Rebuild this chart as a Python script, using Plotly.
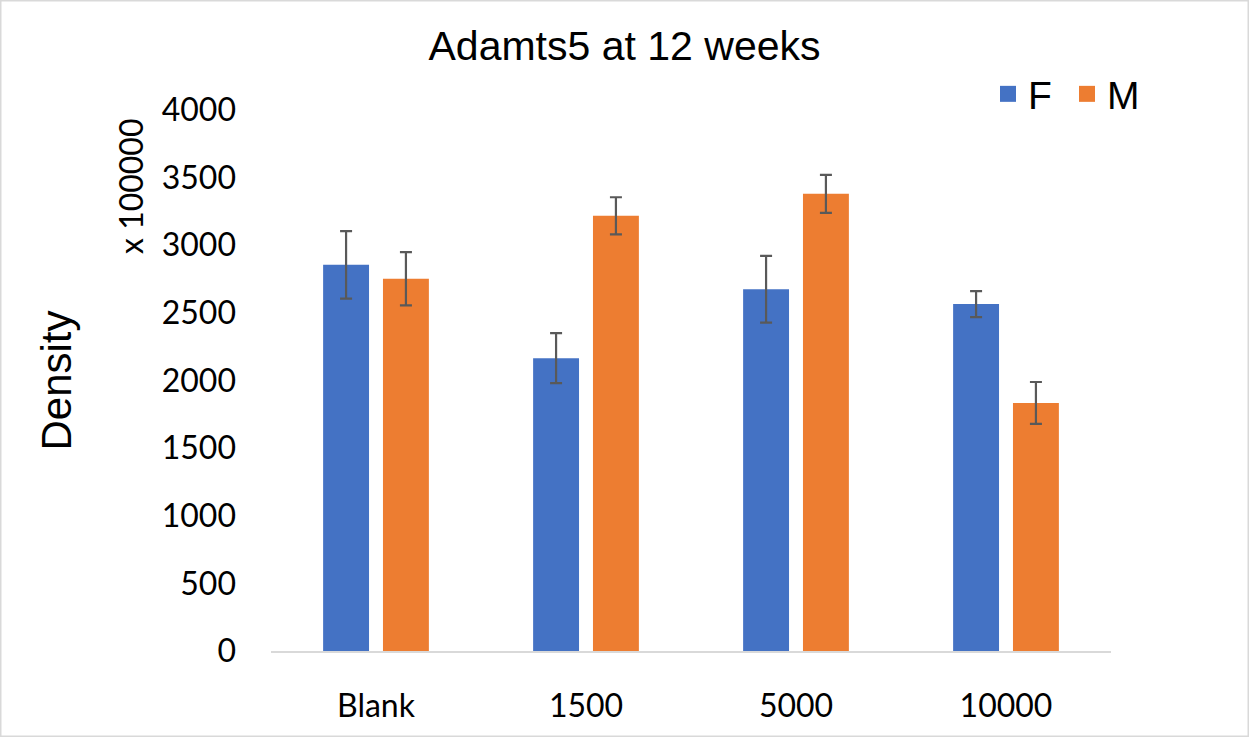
import plotly.graph_objects as go

categories = ["Blank", "1500", "5000", "10000"]
female = [2855, 2165, 2675, 2565]
female_err = [250, 185, 247, 96]
male = [2752, 3218, 3380, 1834]
male_err = [197, 137, 140, 155]

W, H = 1249, 737
L, R, T, B = 271, 138, 110, 86
pw, ph = W - L - R, H - T - B

BLUE = "#4472C4"
ORANGE = "#ED7D31"
ERR = "#595959"
TICK_FONT = dict(family="Lato", size=32, color="#000000")

fig = go.Figure()

for name, vals, errs, color in [
    ("F", female, female_err, BLUE),
    ("M", male, male_err, ORANGE),
]:
    fig.add_trace(go.Bar(
        x=categories, y=vals, name=name,
        marker=dict(color=color, line=dict(width=0)),
        error_y=dict(type="data", array=errs, visible=True,
                     color=ERR, thickness=2.2, width=6),
        showlegend=False,
    ))

# legend entries with larger square swatches
for name, color in [("F", BLUE), ("M", ORANGE)]:
    fig.add_trace(go.Scatter(
        x=[None], y=[None], name=name, mode="markers",
        marker=dict(symbol="square", size=16, color=color),
        showlegend=True,
    ))

fig.update_layout(
    width=W, height=H,
    margin=dict(l=L, r=R, t=T, b=B, autoexpand=False),
    paper_bgcolor="white", plot_bgcolor="white",
    barmode="group", bargap=0.43, bargroupgap=0.233,
    title=dict(text="Adamts5 at 12 weeks", x=0.5, xref="container",
               xanchor="center", y=1 - 46 / H, yanchor="middle",
               yref="container",
               font=dict(family="Liberation Sans", size=41, color="#000000")),
    legend=dict(orientation="h", x=(988 - L) / pw, xanchor="left",
                y=1 + (T - 94) / ph, yanchor="middle",
                entrywidth=34, entrywidthmode="pixels",
                font=dict(family="Liberation Sans", size=39, color="#000000"),
                bgcolor="rgba(0,0,0,0)", itemsizing="trace"),
    xaxis=dict(showgrid=False, showline=True, linecolor="#d9d9d9",
               linewidth=1.5, ticks="", tickfont=TICK_FONT,
               ticklabelstandoff=26, zeroline=False),
    yaxis=dict(range=[0, 4000], dtick=500, showgrid=False, showline=False,
               zeroline=False, ticks="", tickfont=TICK_FONT,
               ticklabelstandoff=34,
               title=dict(text="Density", standoff=77,
                          font=dict(family="Liberation Sans", size=42,
                                    color="#000000"))),
    annotations=[dict(
        text="x 100000", textangle=-90, showarrow=False,
        xref="paper", yref="paper",
        x=(130 - L) / pw, y=(H - B - 186) / ph,
        xanchor="center", yanchor="middle",
        font=TICK_FONT,
    )],
    shapes=[dict(
        type="rect", xref="paper", yref="paper",
        x0=(0.75 - L) / pw, x1=(W - 0.75 - L) / pw,
        y0=-(B - 0.75) / ph, y1=(H - B - 0.75) / ph,
        line=dict(color="#d9d9d9", width=1.5), layer="below",
    )],
)

fig.write_html("out.html")
